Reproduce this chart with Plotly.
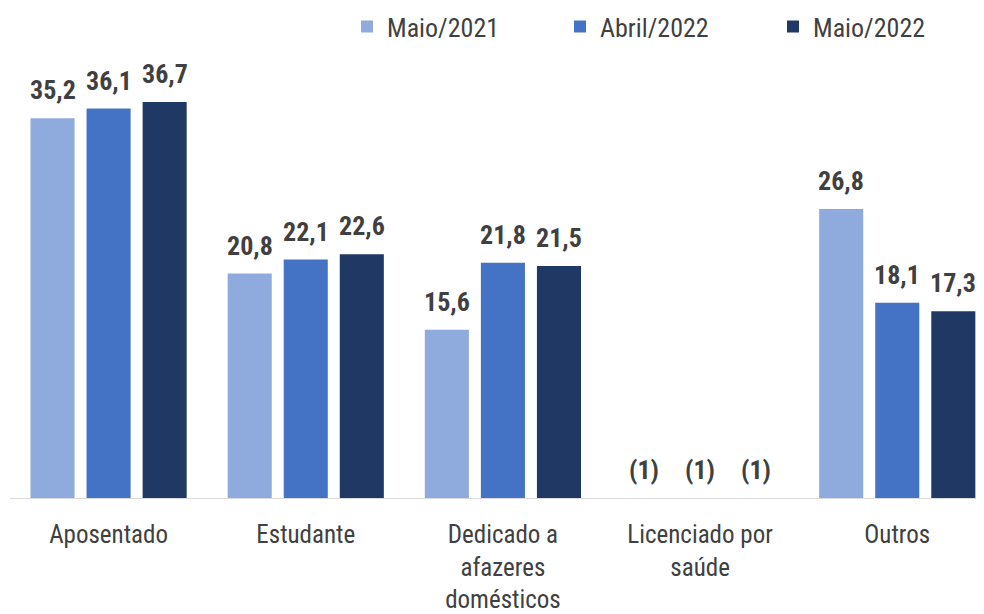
import plotly.graph_objects as go

categories = ["Aposentado", "Estudante", "Dedicado a<br>afazeres<br>domésticos", "Licenciado por<br>saúde", "Outros"]
series_names = ["Maio/2021", "Abril/2022", "Maio/2022"]
maio_2021 = [35.2, 20.8, 15.6, None, 26.8]
abril_2022 = [36.1, 22.1, 21.8, None, 18.1]
maio_2022 = [36.7, 22.6, 21.5, None, 17.3]
labels_2021 = ["35,2", "20,8", "15,6", "(1)", "26,8"]
labels_abr22 = ["36,1", "22,1", "21,8", "(1)", "18,1"]
labels_mai22 = ["36,7", "22,6", "21,5", "(1)", "17,3"]
colors = ["#8FAADC", "#4472C4", "#203864"]

FONT = "Roboto Condensed, Liberation Sans Narrow, Arial Narrow, sans-serif"

series = [maio_2021, abril_2022, maio_2022]
labels = [labels_2021, labels_abr22, labels_mai22]

fig = go.Figure()
x_idx = list(range(len(categories)))
for name, vals, col in zip(series_names, series, colors):
    fig.add_trace(go.Bar(x=x_idx, y=vals, name=name, marker=dict(color=col, line=dict(width=0))))

bargap = 0.147
slot = (1 - bargap) / 3
annotations = []
for si, (vals, labs) in enumerate(zip(series, labels)):
    offset = (si - 1) * slot
    for ci, (v, t) in enumerate(zip(vals, labs)):
        annotations.append(dict(
            x=ci + offset, y=v if v is not None else 0, xref="x", yref="y",
            text="<b>" + t + "</b>", showarrow=False, yanchor="middle", yshift=28,
            font=dict(family=FONT, size=26, color="#404040")))

fig.update_layout(
    width=976, height=606,
    margin=dict(l=2, r=0, t=52, b=116, autoexpand=False),
    paper_bgcolor="white", plot_bgcolor="white",
    barmode="group", bargap=bargap, bargroupgap=0.214,
    font=dict(family=FONT, color="#404040", size=26),
    showlegend=True,
    legend=dict(orientation="h", x=0.346, xanchor="left", y=1.076, yanchor="middle",
                font=dict(family=FONT, size=26, color="#404040"),
                entrywidth=168, entrywidthmode="pixels", itemwidth=30,
                bgcolor="rgba(0,0,0,0)"),
    annotations=annotations,
)
fig.update_xaxes(range=[-0.5, 4.44], tickmode="array", tickvals=x_idx, ticktext=categories,
                 showgrid=False, showline=True, linecolor="#D9D9D9", linewidth=1, ticks="",
                 ticklabelstandoff=14, automargin=False,
                 tickfont=dict(family=FONT, size=25, color="#404040"), zeroline=False)
fig.update_yaxes(range=[0, 40.6], visible=False, showgrid=False, zeroline=False)

fig.write_html("out.html")
